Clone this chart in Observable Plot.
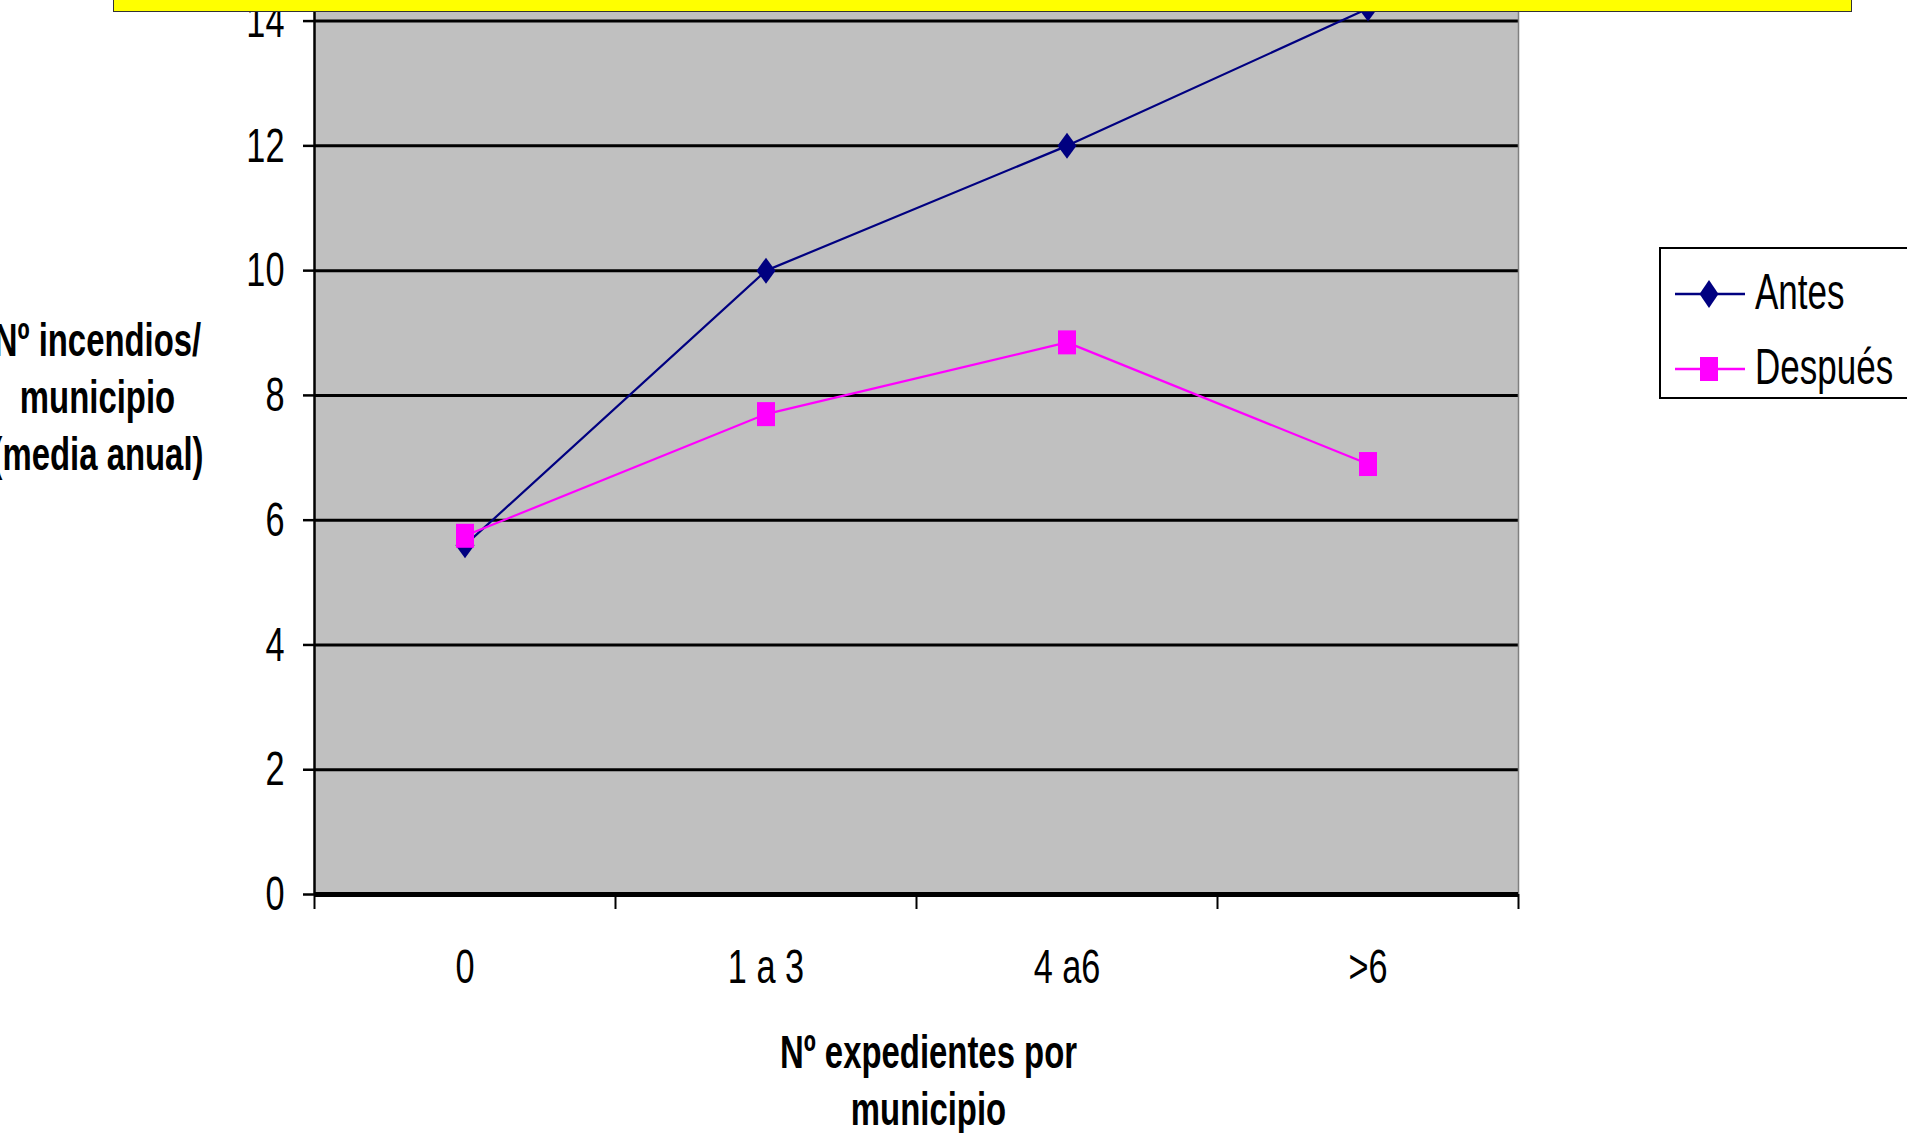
<!DOCTYPE html>
<html>
<head>
<meta charset="utf-8">
<script src="https://cdn.jsdelivr.net/npm/d3@7"></script>
<script src="https://cdn.jsdelivr.net/npm/@observablehq/plot@0.6"></script>
<style>
  html, body { margin: 0; padding: 0; background: #fff; overflow: hidden; }
  #wrap { position: relative; width: 1907px; height: 1133px; }
  #banner { position: absolute; left: 113px; top: -20px; width: 1737px; height: 30px;
            background: #ffff00; border: 1.5px solid #333; z-index: 5; }
  #legend { position: absolute; left: 1659px; top: 247px; width: 300px; height: 148px;
            border: 2px solid #000; background: #fff; z-index: 4;
            font-family: "Liberation Sans", Arial, sans-serif; }
  .lg-item { position: absolute; left: 0; height: 60px; width: 300px; }
  .lg-item svg { position: absolute; left: 14px; top: 0; }
  .lg-item span { position: absolute; left: 94px; top: 50%; font-size: 50px; line-height: 1;
                  transform: translateY(-54%) scaleX(0.7); transform-origin: left center; white-space: nowrap; }
</style>
</head>
<body>
<div id="wrap">
  <div id="banner"></div>
  <div id="chart"></div>
  <div id="legend"></div>
</div>
<script>
// ---- data ----
const categories = ["0", "1 a 3", "4 a6", ">6"];
const antes = [5.6, 10.0, 12.0, 14.2];
const despues = [5.75, 7.7, 8.85, 6.9];
const seriesNames = ["Antes", "Después"];
const seriesColors = ["#000080", "#ff00ff"];
const yTicks = [0, 2, 4, 6, 8, 10, 12, 14];
const xTitle = "Nº expedientes por\nmunicipio";
const yTitle = "Nº incendios/\nmunicipio\n(media anual)";

const rows = [];
categories.forEach((c, i) => {
  rows.push({cat: c, pos: i + 0.5, value: antes[i], series: seriesNames[0]});
  rows.push({cat: c, pos: i + 0.5, value: despues[i], series: seriesNames[1]});
});
const boundaries = d3.range(categories.length + 1);
const centers = categories.map((c, i) => i + 0.5);

const diamond = {draw(ctx) { ctx.moveTo(0, -13); ctx.lineTo(9.5, 0); ctx.lineTo(0, 13); ctx.lineTo(-9.5, 0); ctx.closePath(); }};
const rectSym = {draw(ctx) { ctx.rect(-9, -12, 18, 24); }};

const FONT = "Liberation Sans, Arial, sans-serif";

const chart = Plot.plot({
  width: 1907,
  height: 1133,
  marginLeft: 314,
  marginRight: 389,
  marginTop: 0,
  marginBottom: 239,
  style: {fontFamily: FONT, background: "transparent", overflow: "visible"},
  x: {type: "linear", domain: [0, categories.length], axis: null},
  y: {type: "linear", domain: [0, 14.33], axis: null},
  marks: [
    Plot.frame({fill: "#c0c0c0", stroke: null}),
    Plot.ruleY(yTicks.filter(d => d > 0), {stroke: "#000", strokeWidth: 3}),
    Plot.ruleX([categories.length], {stroke: "#808080", strokeWidth: 1.5}),
    Plot.ruleX([0], {stroke: "#000", strokeWidth: 2.5}),
    Plot.ruleY([0], {stroke: "#000", strokeWidth: 5}),
    Plot.axisY({ticks: yTicks, tickSize: 11, tickPadding: 19, fontSize: 49, label: null, stroke: "#000", strokeWidth: 2.5, color: "#000"}),
    Plot.axisX({ticks: boundaries, tickSize: 15, tickFormat: () => "", label: null, strokeWidth: 2, color: "#000"}),
    Plot.axisX({ticks: centers, tickSize: 0, tickPadding: 54, tickFormat: d => categories[Math.round(d - 0.5)], fontSize: 49, label: null, color: "#000"}),
    Plot.line(rows.filter(d => d.series === seriesNames[0]), {x: "pos", y: "value", stroke: seriesColors[0], strokeWidth: 2.2}),
    Plot.line(rows.filter(d => d.series === seriesNames[1]), {x: "pos", y: "value", stroke: seriesColors[1], strokeWidth: 2.2}),
    Plot.dot(rows.filter(d => d.series === seriesNames[0]), {x: "pos", y: "value", fill: seriesColors[0], stroke: null, symbol: diamond, r: 5}),
    Plot.dot(rows.filter(d => d.series === seriesNames[1]), {x: "pos", y: "value", fill: seriesColors[1], stroke: null, symbol: rectSym, r: 5}),
    Plot.text([yTitle], {frameAnchor: "left", textAnchor: "middle", dx: -217, dy: -53, fontSize: 47, fontWeight: "bold", lineHeight: 1.21, fill: "#000"}),
    Plot.text([xTitle], {frameAnchor: "bottom", textAnchor: "middle", lineAnchor: "top", dx: 12, dy: 133, fontSize: 47, fontWeight: "bold", lineHeight: 1.21, fill: "#000"})
  ]
});

document.getElementById("chart").appendChild(chart);

// horizontally condense all text about its anchor (mimics the narrow font of the original)
chart.querySelectorAll("text").forEach(t => {
  if (!t.textContent) return;
  const bb = t.getBBox();
  const anchor = getComputedStyle(t).textAnchor;
  const cx = anchor === "end" ? bb.x + bb.width : anchor === "middle" ? bb.x + bb.width / 2 : bb.x;
  const tr = t.getAttribute("transform") || "";
  t.setAttribute("transform", `${tr} translate(${cx},0) scale(0.7,1) translate(${-cx},0)`);
});

// legend
const legend = document.getElementById("legend");
seriesNames.forEach((name, i) => {
  const item = document.createElement("div");
  item.className = "lg-item";
  item.style.top = (i === 0 ? 15 : 90) + "px";
  const svg = d3.create("svg").attr("width", 72).attr("height", 60);
  svg.append("line").attr("x1", 0).attr("x2", 70).attr("y1", 30).attr("y2", 30)
     .attr("stroke", seriesColors[i]).attr("stroke-width", 2.5);
  if (i === 0) svg.append("path").attr("d", "M34,16L43.5,30L34,44L24.5,30Z").attr("fill", seriesColors[i]);
  else svg.append("rect").attr("x", 25).attr("y", 18).attr("width", 18).attr("height", 24).attr("fill", seriesColors[i]);
  item.appendChild(svg.node());
  const span = document.createElement("span");
  span.textContent = name;
  item.appendChild(span);
  legend.appendChild(item);
});
</script>
</body>
</html>
